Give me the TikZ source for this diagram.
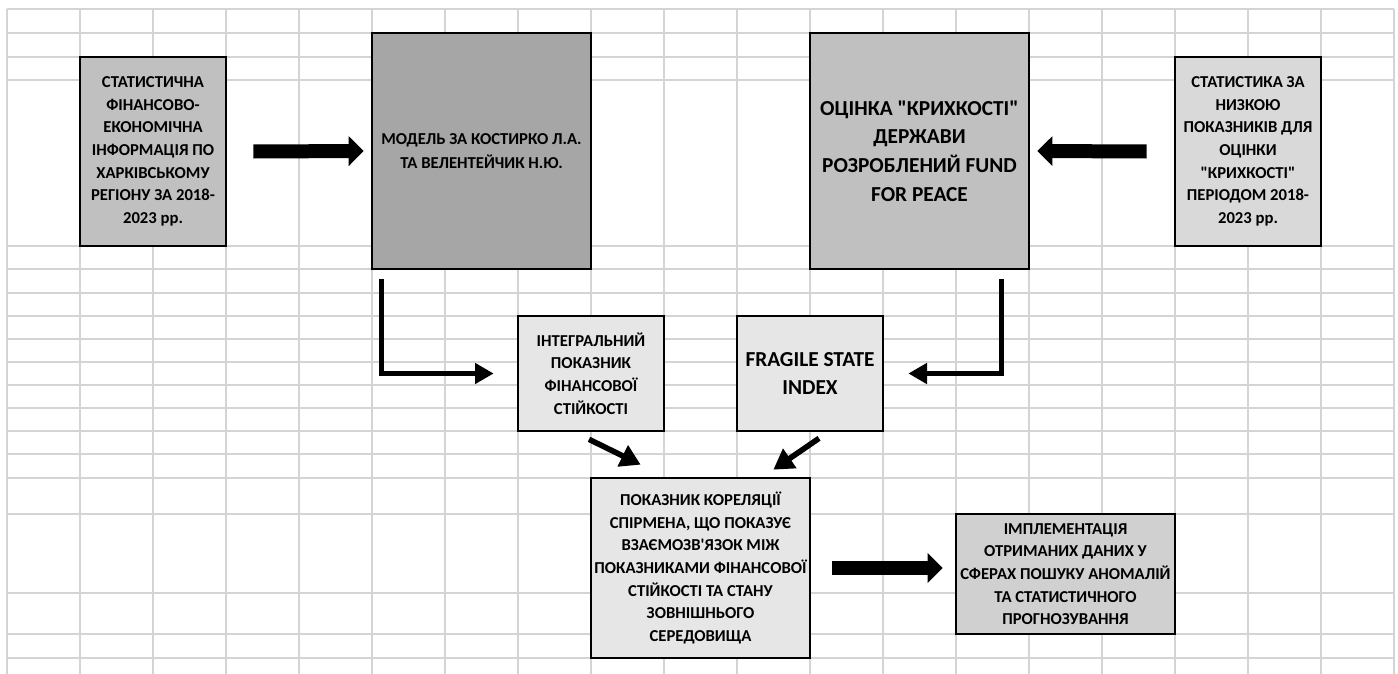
\documentclass[tikz,border=0pt]{standalone}
\usepackage{fontspec}
\setmainfont{Carlito}
\usetikzlibrary{arrows.meta}
\definecolor{gridc}{HTML}{D4D4D4}
\definecolor{fillA}{HTML}{C0C0C0}
\definecolor{fillB}{HTML}{A6A6A6}
\definecolor{fillC}{HTML}{D9D9D9}
\definecolor{fillD}{HTML}{E6E6E6}
\definecolor{fillE}{HTML}{D0D0D0}
\begin{document}
\begin{tikzpicture}[x=0.75pt,y=-0.75pt,
  box/.style={draw=black,line width=2pt,rectangle,inner sep=0pt,align=center,text=black,
    font=\fontsize{12.5}{17}\selectfont\bfseries},
  bigtext/.style={font=\fontsize{16}{21.4}\selectfont\bfseries},
  blockarr/.style={line width=10.5pt,-{Triangle[length=11.25pt,width=21.75pt]}},
  thinarr/.style={line width=4pt,-{Triangle[length=14pt,width=15pt]}},
  diagarr/.style={line width=4.2pt,-{Triangle[length=15pt,width=17pt]}},
  gridline/.style={draw=gridc,line width=1.1pt}]
\useasboundingbox[fill=white] (0,0) rectangle (1398,674);
% spreadsheet grid
\foreach \k in {0,...,19} \draw[gridline] ({7+73*\k},9) -- ({7+73*\k},674);
\foreach \yy in {9,33,57,80,246,269,293,316,339,362,385,408,431,454,478,514,593,634,658}
  \draw[gridline] (7,\yy) -- (1394,\yy);
% boxes
\node[box,fill=fillA,minimum width=109.5pt,minimum height=141.75pt] (src) at (153,151.5)
  {СТАТИСТИЧНА\\ФІНАНСОВО-\\ЕКОНОМІЧНА\\ІНФОРМАЦІЯ ПО\\ХАРКІВСЬКОМУ\\РЕГІОНУ ЗА 2018-\\2023 рр.};
\node[box,fill=fillB,minimum width=164.25pt,minimum height=177pt,
  font=\fontsize{12.5}{18}\selectfont\bfseries] (model) at (481.5,151)
  {МОДЕЛЬ ЗА КОСТИРКО Л.А.\\ТА ВЕЛЕНТЕЙЧИК Н.Ю.};
\node[box,bigtext,fill=fillA,minimum width=164.25pt,minimum height=177pt] (fsi) at (919.5,151)
  {ОЦІНКА \textquotedbl КРИХКОСТІ\textquotedbl\\ДЕРЖАВИ\\РОЗРОБЛЕНИЙ FUND\\FOR PEACE};
\node[box,fill=fillC,minimum width=109.5pt,minimum height=141.75pt] (stat) at (1248,151.5)
  {СТАТИСТИКА ЗА\\НИЗКОЮ\\ПОКАЗНИКІВ ДЛЯ\\ОЦІНКИ\\\textquotedbl КРИХКОСТІ\textquotedbl\\ПЕРІОДОМ 2018-\\2023 рр.};
\node[box,fill=fillD,minimum width=109.5pt,minimum height=86.25pt] (integral) at (591,373.5)
  {ІНТЕГРАЛЬНИЙ\\ПОКАЗНИК\\ФІНАНСОВОЇ\\СТІЙКОСТІ};
\node[box,bigtext,fill=fillD,minimum width=109.5pt,minimum height=86.25pt] (fragile) at (810,373.5)
  {FRAGILE STATE\\INDEX};
\node[box,fill=fillD,minimum width=164.25pt,minimum height=135pt] (corr) at (700.5,568)
  {ПОКАЗНИК КОРЕЛЯЦІЇ\\СПІРМЕНА, ЩО ПОКАЗУЄ\\ВЗАЄМОЗВ\textquotesingle ЯЗОК МІЖ\\ПОКАЗНИКАМИ ФІНАНСОВОЇ\\СТІЙКОСТІ ТА СТАНУ\\ЗОВНІШНЬОГО\\СЕРЕДОВИЩА};
\node[box,fill=fillE,minimum width=164.25pt,minimum height=90pt] (impl) at (1065.5,574)
  {ІМПЛЕМЕНТАЦІЯ\\ОТРИМАНИХ ДАНИХ У\\СФЕРАХ ПОШУКУ АНОМАЛІЙ\\ТА СТАТИСТИЧНОГО\\ПРОГНОЗУВАННЯ};
% block arrows
\draw[blockarr] ([shift={(26,0)}]src.east) -- ([shift={(-7,0)}]model.west);
\draw[blockarr] ([shift={(-27,0)}]stat.west) -- ([shift={(7,0)}]fsi.east);
\path (impl.west |- corr.east) ++(-12,0) coordinate (a3end);
\draw[blockarr] ([shift={(21,0)}]corr.east) -- (a3end);
% elbow arrows
\draw[thinarr] ([shift={(11,9)}]model.south west) |- ([shift={(-23,0)}]integral.west);
\draw[thinarr] ([shift={(-29,9)}]fsi.south east) |- ([shift={(24,0)}]fragile.east);
% diagonal arrows
\draw[diagarr] ([shift={(-2,7)}]integral.south) -- ([shift={(51,-12)}]corr.north west);
\draw[diagarr] ([shift={(9,6)}]fragile.south) -- ([shift={(-38,-7)}]corr.north east);
\end{tikzpicture}
\end{document}
